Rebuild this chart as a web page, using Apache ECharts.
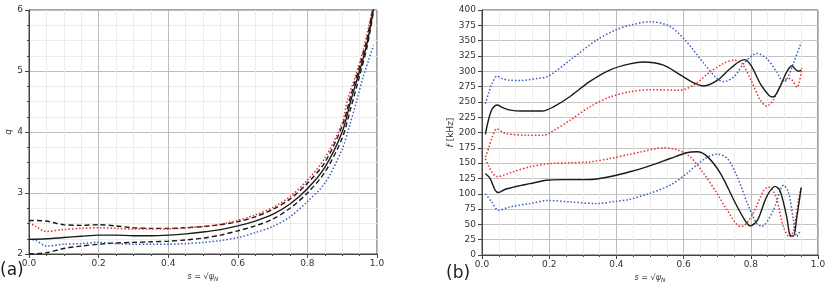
<!DOCTYPE html>
<html>
<head>
<meta charset="utf-8">
<script src="https://cdn.jsdelivr.net/npm/echarts@6/dist/echarts.min.js"></script>
<style>
html,body{margin:0;padding:0;background:#fff;}
#c{width:831px;height:292px;}
</style>
</head>
<body>
<div id="c"></div>
<script>
// ---------- Panel (a): q profiles ----------
const sQSolid   = [0, 0.05, 0.1, 0.15, 0.2, 0.25, 0.3, 0.35, 0.4, 0.45, 0.5, 0.55, 0.6, 0.65, 0.7, 0.75, 0.8, 0.85, 0.9, 0.925, 0.95, 0.97, 0.98, 0.99];
const qSolid    = [2.24, 2.25, 2.27, 2.29, 2.31, 2.31, 2.30, 2.30, 2.31, 2.33, 2.36, 2.40, 2.46, 2.54, 2.65, 2.82, 3.07, 3.42, 4.00, 4.52, 5.00, 5.42, 5.70, 6.02];
const sQDashUp  = [0, 0.05, 0.08, 0.1, 0.15, 0.2, 0.25, 0.3, 0.35, 0.4, 0.45, 0.5, 0.55, 0.6, 0.65, 0.7, 0.75, 0.8, 0.85, 0.9, 0.925, 0.95, 0.97, 0.98, 0.99];
const qDashUp   = [2.55, 2.54, 2.50, 2.48, 2.47, 2.48, 2.46, 2.43, 2.42, 2.42, 2.43, 2.45, 2.48, 2.53, 2.61, 2.73, 2.90, 3.16, 3.50, 4.10, 4.60, 5.08, 5.50, 5.78, 6.08];
const sQDashLo  = [0, 0.05, 0.1, 0.15, 0.2, 0.25, 0.3, 0.35, 0.4, 0.45, 0.5, 0.55, 0.6, 0.65, 0.7, 0.75, 0.8, 0.85, 0.9, 0.925, 0.95, 0.97, 0.98, 0.99];
const qDashLo   = [2.00, 2.02, 2.09, 2.13, 2.16, 2.18, 2.19, 2.20, 2.21, 2.23, 2.26, 2.31, 2.38, 2.46, 2.57, 2.75, 3.00, 3.34, 3.90, 4.40, 4.92, 5.36, 5.65, 5.98];
const sQRed     = [0, 0.02, 0.05, 0.1, 0.15, 0.2, 0.25, 0.3, 0.35, 0.4, 0.45, 0.5, 0.55, 0.6, 0.65, 0.7, 0.75, 0.8, 0.85, 0.9, 0.915, 0.94, 0.96, 0.975, 0.99];
const qRed      = [2.52, 2.45, 2.37, 2.40, 2.42, 2.43, 2.42, 2.41, 2.41, 2.41, 2.43, 2.45, 2.49, 2.55, 2.64, 2.76, 2.94, 3.21, 3.57, 4.15, 4.52, 4.95, 5.34, 5.70, 6.10];
const sQBlue    = [0, 0.02, 0.05, 0.1, 0.15, 0.2, 0.25, 0.3, 0.35, 0.4, 0.45, 0.5, 0.55, 0.6, 0.65, 0.7, 0.75, 0.8, 0.85, 0.9, 0.92, 0.942, 0.96, 0.975, 0.99];
const qBlue     = [2.25, 2.22, 2.13, 2.16, 2.17, 2.19, 2.17, 2.16, 2.16, 2.16, 2.17, 2.19, 2.22, 2.27, 2.35, 2.45, 2.61, 2.86, 3.16, 3.72, 4.08, 4.52, 4.90, 5.16, 5.42];

// ---------- Panel (b): gap boundaries (kHz) ----------
const sBlackUp = [0.01, 0.02, 0.03, 0.045, 0.06, 0.08, 0.12, 0.18, 0.21, 0.26, 0.32, 0.38, 0.44, 0.48, 0.54, 0.59, 0.63, 0.66, 0.70, 0.74, 0.78, 0.80, 0.83, 0.855, 0.867, 0.887, 0.907, 0.922, 0.935, 0.942, 0.95];
const fBlackUp = [197, 222, 238, 245, 241, 237, 235, 235, 241, 258, 283, 302, 312, 315, 310, 294, 281, 276, 285, 305, 319, 310, 278, 260, 258, 275, 299, 309, 302, 300, 302];
const sBlueUp  = [0.01, 0.02, 0.03, 0.045, 0.06, 0.08, 0.113, 0.163, 0.197, 0.262, 0.341, 0.40, 0.44, 0.50, 0.56, 0.609, 0.66, 0.70, 0.72, 0.75, 0.78, 0.818, 0.847, 0.877, 0.897, 0.907, 0.927, 0.95];
const fBlueUp  = [247, 265, 280, 292, 288, 285.5, 285, 288, 292, 318, 351, 368, 375, 381, 373, 348, 313, 288, 283, 291, 313, 329, 321, 299, 283, 286, 313, 347];
const sRedUp   = [0.01, 0.02, 0.03, 0.044, 0.06, 0.073, 0.133, 0.183, 0.202, 0.262, 0.321, 0.381, 0.44, 0.50, 0.59, 0.629, 0.679, 0.72, 0.749, 0.773, 0.80, 0.828, 0.847, 0.867, 0.897, 0.917, 0.937, 0.952];
const fRedUp   = [160, 175, 192, 206, 201, 198, 195.5, 195.5, 199.5, 220, 242, 258, 266.5, 270, 269, 277, 299, 313, 318, 313, 286, 253, 243, 253, 285, 288, 274, 305];
const sBlackLo = [0.01, 0.024, 0.039, 0.049, 0.068, 0.103, 0.143, 0.192, 0.242, 0.311, 0.341, 0.39, 0.44, 0.49, 0.56, 0.609, 0.64, 0.67, 0.71, 0.75, 0.78, 0.798, 0.82, 0.847, 0.872, 0.887, 0.907, 0.917, 0.927, 0.937, 0.95];
const fBlackLo = [133, 125, 106, 102, 107, 112, 116.5, 122, 123, 123, 124, 129, 136, 144, 157.5, 167, 168.5, 161, 133, 89, 59, 47.5, 57, 95, 112, 105, 62, 32, 31, 62, 110];
const sBlueLo  = [0.01, 0.029, 0.049, 0.083, 0.143, 0.197, 0.262, 0.341, 0.40, 0.44, 0.49, 0.56, 0.609, 0.66, 0.70, 0.73, 0.76, 0.79, 0.818, 0.833, 0.867, 0.898, 0.912, 0.927, 0.937, 0.947];
const fBlueLo  = [100, 86.6, 73, 78.5, 84, 89, 86.6, 84, 87.7, 91, 99, 114, 133, 156, 164.6, 157.5, 127.5, 84, 51, 47, 73, 114, 103, 57, 30, 40];
const sRedLo   = [0.01, 0.02, 0.03, 0.044, 0.093, 0.143, 0.197, 0.262, 0.321, 0.381, 0.44, 0.47, 0.54, 0.58, 0.62, 0.66, 0.70, 0.73, 0.768, 0.78, 0.807, 0.837, 0.852, 0.865, 0.877, 0.897, 0.915, 0.927, 0.942, 0.95];
const fRedLo   = [157, 145, 135, 128, 136, 144, 149, 150.5, 152, 157.5, 164.5, 168, 175, 172, 160, 133, 100, 73, 47, 48, 68, 104, 111, 106, 92, 46, 29.5, 40, 89, 111];

const xTicks = [0, 0.2, 0.4, 0.6, 0.8, 1.0];

const zip = (a, b) => a.map((v, i) => [v, b[i]]);

const BLACK = '#1a1a1a', RED = '#ee2a2a', BLUE = '#3a5cbf';
const labelFont = {fontFamily: 'DejaVu Sans', fontSize: 9, color: '#333'};

function xAxis(gi) {
  return {
    type: 'value', gridIndex: gi, min: 0, max: 1, interval: 0.2,
    name: '{i|s} = √{i|ψ}{sub|N}', nameLocation: 'middle', nameGap: 18,
    nameTextStyle: {fontFamily: 'DejaVu Sans', fontSize: 8, color: '#333',
      rich: {i: {fontStyle: 'italic', fontFamily: 'DejaVu Sans', fontSize: 8, color: '#333'},
             sub: {fontStyle: 'italic', fontFamily: 'DejaVu Sans', fontSize: 6, color: '#333', padding: [4, 0, 0, 0]}}},
    axisLine: {show: true, lineStyle: {color: '#444', width: 1}},
    axisTick: {show: true, length: 4, lineStyle: {color: '#444'}},
    minorTick: {show: true, splitNumber: 4, length: 2, lineStyle: {color: '#444'}},
    axisLabel: Object.assign({margin: 5, formatter: v => v.toFixed(1)}, labelFont),
    splitLine: {show: true, lineStyle: {color: '#bdbdbd', width: 1}},
    minorSplitLine: {show: true, lineStyle: {color: '#ececec', width: 1}}
  };
}

function line(xi, s, v, color, type, w) {
  return {
    type: 'line', xAxisIndex: xi, yAxisIndex: xi, data: zip(s, v),
    showSymbol: false, smooth: 0.3, clip: true, silent: true,
    lineStyle: {color: color, width: w, type: type, cap: 'butt'}
  };
}

const chart = echarts.init(document.getElementById('c'), null, {renderer: 'canvas'});
chart.setOption({
  animation: false,
  backgroundColor: '#fff',
  grid: [
    {left: 29, right: 454, top: 10, bottom: 38, show: true, borderColor: '#444', borderWidth: 1, backgroundColor: 'transparent'},
    {left: 482, right: 13, top: 10, bottom: 37, show: true, borderColor: '#444', borderWidth: 1, backgroundColor: 'transparent'}
  ],
  xAxis: [xAxis(0), xAxis(1)],
  yAxis: [
    {
      type: 'value', gridIndex: 0, min: 2, max: 6, interval: 1,
      name: 'q', nameLocation: 'middle', nameGap: 16,
      nameTextStyle: {fontFamily: 'DejaVu Sans', fontSize: 9, fontStyle: 'italic', color: '#333'},
      axisLine: {show: true, lineStyle: {color: '#444'}},
      axisTick: {show: true, length: 4, lineStyle: {color: '#444'}},
      minorTick: {show: true, splitNumber: 4, length: 2, lineStyle: {color: '#444'}},
      axisLabel: Object.assign({margin: 6}, labelFont),
      splitLine: {show: true, lineStyle: {color: '#bdbdbd', width: 1}},
      minorSplitLine: {show: true, lineStyle: {color: '#ececec', width: 1}}
    },
    {
      type: 'value', gridIndex: 1, min: 0, max: 400, interval: 25,
      name: '{i|f} [kHz]', nameLocation: 'middle', nameGap: 26,
      nameTextStyle: {fontFamily: 'DejaVu Sans', fontSize: 9, color: '#333',
        rich: {i: {fontStyle: 'italic', fontFamily: 'DejaVu Sans', fontSize: 9, color: '#333'}}},
      axisLine: {show: true, lineStyle: {color: '#444'}},
      axisTick: {show: true, length: 4, lineStyle: {color: '#444'}},
      axisLabel: Object.assign({margin: 6}, labelFont),
      splitLine: {show: true, lineStyle: {color: '#c4c4c4', width: 1}}
    }
  ],
  series: [
    line(0, sQDashUp, qDashUp, BLACK, [5, 3], 1.4),
    line(0, sQDashLo, qDashLo, BLACK, [5, 3], 1.4),
    line(0, sQRed, qRed, RED, [1.5, 2], 1.5),
    line(0, sQBlue, qBlue, BLUE, [1.5, 2], 1.5),
    line(0, sQSolid, qSolid, BLACK, 'solid', 1.4),
    line(1, sBlueUp, fBlueUp, BLUE, [1.5, 2], 1.5),
    line(1, sRedUp, fRedUp, RED, [1.5, 2], 1.5),
    line(1, sBlackUp, fBlackUp, BLACK, 'solid', 1.4),
    line(1, sBlueLo, fBlueLo, BLUE, [1.5, 2], 1.5),
    line(1, sRedLo, fRedLo, RED, [1.5, 2], 1.5),
    line(1, sBlackLo, fBlackLo, BLACK, 'solid', 1.4)
  ],
  graphic: [
    {type: 'text', left: 0, top: 262, style: {text: '(a)', fontFamily: 'DejaVu Sans', fontSize: 17, fill: '#222'}},
    {type: 'text', left: 446, top: 265, style: {text: '(b)', fontFamily: 'DejaVu Sans', fontSize: 17, fill: '#222'}}
  ]
});
</script>
</body>
</html>
